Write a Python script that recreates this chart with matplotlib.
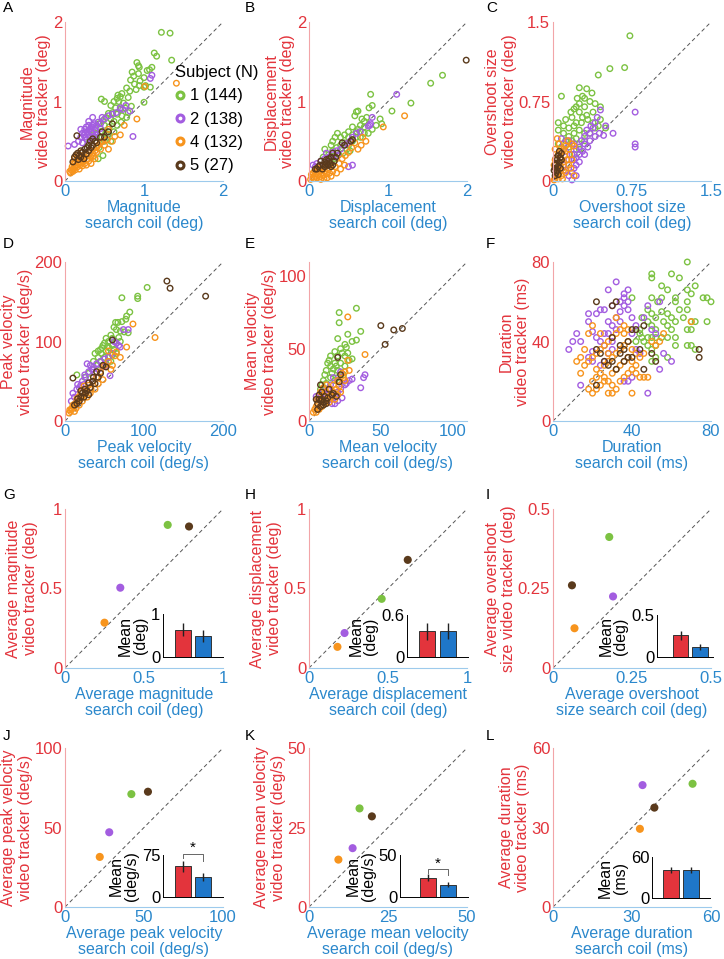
import matplotlib.pyplot as plt
from matplotlib.lines import Line2D
import numpy as np

plt.rcParams['font.family'] = ['Liberation Sans', 'DejaVu Sans']

W, H = 724, 959

RED = '#e3343c'
BLUE = '#2b88cc'
subjects = ['1', '2', '4', '5']
subject_n = [144, 138, 132, 27]
subject_colors = ['#7cc242', '#a35de0', '#f7941d', '#5a3a1c']

# ---------------- trial data (search coil, video tracker) ----------------
# A: magnitude (deg)
mag_s1 = [(1.22,1.87),(1.33,1.86),(1.13,1.61),(1.16,1.57),(1.35,1.52),(0.91,1.49),(0.93,1.45),(0.94,1.43),
          (1.04,1.39),(1.07,1.40),(1.10,1.43),(0.85,1.37),(0.87,1.32),(0.93,1.35),(1.00,1.30),(0.83,1.27),
          (0.95,1.26),(0.88,1.22),(0.94,1.20),(1.00,1.18),(1.02,1.20),(1.08,1.18),(0.78,1.17),(0.82,1.13),
          (0.90,1.15),(0.72,1.10),(0.67,1.08),(0.70,1.06),(0.66,1.04),(0.80,1.05),(0.62,1.00),(0.68,1.00),
          (0.74,0.98),(0.46,1.03),(0.50,1.00),(0.58,0.95),(0.64,0.92),(0.70,0.90),(0.60,0.86),(0.55,0.85),
          (0.66,0.84),(0.72,0.82),(0.76,0.92),(0.84,0.94),(1.00,0.99),(0.58,0.78),(0.62,0.75),(0.52,0.80),
          (0.48,0.76),(0.43,0.72),(0.50,0.70),(0.56,0.68),(0.45,0.62),(0.40,0.60),(0.35,0.58),(0.38,0.55),
          (0.47,0.55),(0.52,0.60),(0.62,0.62),(0.66,0.70),(0.71,0.74),(0.30,0.48),(0.50,0.50),(0.55,0.58),
          (0.58,0.50),(0.43,0.42),(0.48,0.32),(0.42,0.28),(0.78,0.80),(0.80,0.86)]
mag_s2 = [(0.04,0.44),(0.12,0.46),(0.17,0.50),(0.20,0.55),(0.22,0.60),(0.25,0.65),(0.30,0.70),(0.28,0.62),
          (0.32,0.66),(0.35,0.70),(0.25,0.55),(0.30,0.58),(0.33,0.62),(0.38,0.65),(0.40,0.70),(0.42,0.74),
          (0.45,0.72),(0.50,0.78),(0.55,0.82),(0.60,0.84),(0.65,0.86),(0.70,0.92),(0.73,0.90),(0.77,0.95),
          (0.82,0.88),(0.86,0.56),(1.10,1.33),(1.08,1.29),(0.30,0.75),(0.27,0.68),(0.35,0.60),(0.22,0.48),
          (0.40,0.62),(0.45,0.66),(0.47,0.80),(0.35,0.80),(0.20,0.65),(0.28,0.52),(0.32,0.54),(0.36,0.56),
          (0.24,0.58),(0.26,0.60),(0.30,0.64),(0.34,0.68),(0.37,0.72),(0.39,0.58)]
mag_s4 = [(0.06,0.12),(0.08,0.14),(0.10,0.15),(0.12,0.17),(0.09,0.18),(0.14,0.20),(0.16,0.18),(0.11,0.22),
          (0.13,0.24),(0.15,0.26),(0.18,0.22),(0.20,0.24),(0.17,0.28),(0.22,0.27),(0.24,0.30),(0.20,0.32),
          (0.26,0.33),(0.28,0.28),(0.30,0.32),(0.25,0.22),(0.22,0.19),(0.18,0.15),(0.27,0.20),(0.30,0.25),
          (0.33,0.30),(0.35,0.35),(0.32,0.38),(0.38,0.38),(0.40,0.42),(0.42,0.45),(0.45,0.40),(0.48,0.50),
          (0.50,0.45),(0.53,0.52),(0.55,0.40),(0.60,0.50),(0.63,0.56),(0.55,0.65),(0.70,0.58),(0.75,0.70),
          (0.91,0.78),(1.01,1.19),(1.41,1.23),(0.07,0.10),(0.10,0.12),(0.13,0.14),(0.19,0.20),(0.23,0.24),
          (0.12,0.28),(0.15,0.32),(0.21,0.36),(0.36,0.31),(0.40,0.36),(0.45,0.48),(0.33,0.22),(0.38,0.28)]
mag_s5 = [(0.15,0.57),(0.12,0.30),(0.14,0.33),(0.16,0.35),(0.18,0.32),(0.20,0.38),(0.22,0.36),(0.25,0.40),
          (0.28,0.42),(0.30,0.45),(0.32,0.50),(0.35,0.53),(0.38,0.50),(0.45,0.55),(0.47,0.62),(0.55,0.62),
          (0.60,0.72),(0.35,0.45),(0.20,0.30),(0.24,0.28),(0.10,0.24),(0.30,0.38),(0.40,0.48),(0.27,0.34),
          (0.17,0.27),(0.33,0.42),(0.50,0.55)]

# B: displacement (deg)
disp_s1 = [(1.69,1.33),(1.54,1.23),(1.29,0.98),(1.05,0.88),(0.78,1.09),(0.80,0.95),(0.60,0.87),(0.62,0.88),
           (0.58,0.82),(0.73,0.80),(0.90,0.78),(0.92,0.72),(0.70,0.75),(0.65,0.70),(0.55,0.68),(0.60,0.62),
           (0.50,0.62),(0.45,0.58),(0.40,0.55),(0.36,0.60),(0.33,0.55),(0.30,0.50),(0.28,0.45),(0.20,0.40),
           (0.18,0.30),(0.25,0.33),(0.30,0.38),(0.35,0.42),(0.40,0.45),(0.45,0.48),(0.50,0.45),(0.55,0.50),
           (0.60,0.55),(0.65,0.55),(0.70,0.60),(0.75,0.60),(0.80,0.65),(0.85,0.70),(0.70,0.68),(0.48,0.40),
           (0.52,0.38),(0.43,0.35),(0.38,0.33),(0.33,0.28),(0.28,0.30),(0.50,0.55),(0.55,0.58),(0.62,0.65),
           (0.67,0.78),(0.76,0.92)]
disp_s2 = [(1.11,1.09),(0.77,0.70),(0.75,0.69),(0.78,0.72),(0.80,0.80),(0.55,0.55),(0.52,0.50),(0.48,0.47),
           (0.44,0.45),(0.40,0.40),(0.35,0.38),(0.30,0.33),(0.25,0.30),(0.20,0.28),(0.15,0.25),(0.08,0.18),
           (0.05,0.20),(0.10,0.22),(0.22,0.35),(0.55,0.20),(0.50,0.18),(0.60,0.60),(0.65,0.62),(0.30,0.36),
           (0.36,0.32)]
disp_s4 = [(0.02,0.02),(0.04,0.05),(0.06,0.03),(0.08,0.06),(0.10,0.04),(0.12,0.08),(0.14,0.05),(0.16,0.10),
           (0.18,0.07),(0.20,0.12),(0.22,0.09),(0.24,0.14),(0.26,0.10),(0.28,0.06),(0.30,0.12),(0.05,0.10),
           (0.07,0.12),(0.09,0.14),(0.11,0.16),(0.13,0.13),(0.03,0.08),(0.15,0.02),(0.19,0.03),(0.23,0.04),
           (0.17,0.15),(0.21,0.18),(0.25,0.20),(0.33,0.18),(0.38,0.22),(0.42,0.28),(0.46,0.32),(0.50,0.36),
           (0.54,0.42),(0.58,0.48),(0.62,0.40),(0.66,0.45),(0.68,0.55),(0.72,0.50),(0.94,0.68),(1.21,0.82),
           (0.35,0.10),(0.40,0.15),(0.45,0.20)]
disp_s5 = [(1.99,1.52),(0.55,0.52),(0.53,0.50),(0.45,0.45),(0.42,0.48),(0.30,0.35),(0.28,0.30),(0.25,0.25),
           (0.22,0.22),(0.20,0.18),(0.18,0.20),(0.15,0.25),(0.12,0.18),(0.10,0.15),(0.24,0.20),(0.27,0.22),
           (0.30,0.20),(0.32,0.25),(0.08,0.15),(0.17,0.15),(0.20,0.24),(0.25,0.28),(0.34,0.30),(0.14,0.20),
           (0.22,0.27),(0.28,0.18),(0.36,0.35)]

# C: overshoot size (deg)
over_s1 = [(0.73,1.37),(0.68,1.07),(0.54,1.06),(0.43,1.00),(0.25,0.88),(0.32,0.87),(0.37,0.83),(0.28,0.80),
           (0.23,0.78),(0.08,0.80),(0.25,0.73),(0.30,0.70),(0.35,0.75),(0.40,0.73),(0.45,0.70),(0.20,0.68),
           (0.25,0.65),(0.28,0.60),(0.33,0.58),(0.38,0.55),(0.43,0.52),(0.50,0.50),(0.18,0.60),(0.15,0.50),
           (0.20,0.52),(0.10,0.52),(0.05,0.55),(0.05,0.48),(0.10,0.45),(0.15,0.42),(0.20,0.45),(0.25,0.48),
           (0.30,0.45),(0.35,0.45),(0.40,0.50),(0.12,0.38),(0.18,0.38),(0.22,0.40),(0.05,0.35),(0.08,0.32),
           (0.15,0.32),(0.25,0.35),(0.30,0.38),(0.22,0.55),(0.27,0.55),(0.32,0.62),(0.38,0.65),(0.45,0.58),
           (0.12,0.58),(0.17,0.65),(0.22,0.70),(0.30,0.78),(0.20,0.25),(0.25,0.30)]
over_s2 = [(0.78,0.65),(0.78,0.35),(0.78,0.32),(0.57,0.45),(0.50,0.52),(0.45,0.67),(0.42,0.60),(0.40,0.55),
           (0.38,0.50),(0.35,0.45),(0.40,0.42),(0.35,0.38),(0.30,0.35),(0.33,0.32),(0.25,0.32),(0.28,0.28),
           (0.22,0.30),(0.25,0.25),(0.22,0.22),(0.20,0.20),(0.18,0.25),(0.25,0.18),(0.22,0.15),(0.20,0.12),
           (0.18,0.08),(0.15,0.05),(0.12,0.10),(0.10,0.15),(0.15,0.20),(0.12,0.28),(0.10,0.35),(0.15,0.38),
           (0.30,0.42),(0.32,0.48),(0.36,0.52),(0.44,0.45),(0.48,0.43),(0.27,0.38),(0.20,0.35),(0.08,0.40),
           (0.30,0.25),(0.22,0.05),(0.18,0.01)]
over_s4 = [(0.01,0.01),(0.02,0.02),(0.03,0.05),(0.05,0.02),(0.06,0.08),(0.08,0.05),(0.10,0.10),(0.12,0.08),
           (0.04,0.12),(0.07,0.15),(0.10,0.18),(0.13,0.20),(0.15,0.15),(0.02,0.20),(0.05,0.25),(0.08,0.28),
           (0.10,0.30),(0.12,0.33),(0.15,0.30),(0.18,0.35),(0.20,0.33),(0.16,0.25),(0.18,0.20),(0.02,0.30),
           (0.06,0.35),(0.04,0.40),(0.14,0.38),(0.17,0.12),(0.20,0.05),(0.03,0.08),(0.09,0.02),(0.11,0.24),
           (0.07,0.20),(0.01,0.15)]
over_s5 = [(0.02,0.05),(0.03,0.08),(0.04,0.10),(0.02,0.12),(0.05,0.14),(0.03,0.16),(0.06,0.18),(0.04,0.20),
           (0.07,0.22),(0.05,0.24),(0.08,0.26),(0.06,0.28),(0.02,0.15),(0.07,0.12),(0.05,0.06),(0.08,0.20),
           (0.03,0.22),(0.01,0.10)]

# D: peak velocity (deg/s)
pv_s1 = [(104,168),(72,155),(92,157),(92,154),(82,137),(78,132),(77,128),(64,124),(67,124),(72,125),(62,118),
         (65,115),(70,113),(75,112),(80,111),(58,108),(60,104),(52,104),(55,100),(50,98),(48,95),(45,90),
         (42,88),(38,85),(46,85),(52,88),(56,92),(60,95),(64,100),(50,80),(55,80),(60,83),(65,85),(45,75),
         (40,70),(35,65),(30,60),(15,58),(25,55),(48,70),(52,72),(58,75),(42,80),(36,75),(62,90),(68,105),
         (54,94),(47,92),(70,100)]
pv_s2 = [(28,72),(32,70),(36,68),(40,72),(45,75),(50,78),(55,80),(60,85),(62,100),(65,98),(68,95),(70,93),
         (74,115),(80,115),(57,57),(30,62),(25,58),(22,50),(20,45),(15,40),(10,35),(12,30),(8,25),(18,42),
         (26,55),(34,65),(38,60),(42,65),(48,68),(52,70),(30,48),(24,46),(16,46)]
pv_s4 = [(86,122),(114,105),(78,93),(65,87),(55,75),(50,70),(45,62),(40,55),(35,50),(30,45),(25,40),(20,35),
         (15,28),(10,20),(8,15),(5,10),(12,12),(18,20),(22,25),(28,30),(32,35),(38,40),(42,47),(48,52),
         (58,65),(60,70),(70,80),(63,82),(55,88),(7,12),(9,16),(11,18),(13,22),(16,24),(19,27),(22,30),
         (26,34),(6,14),(14,16),(17,30),(21,38),(24,44),(27,36),(33,40)]
pv_s5 = [(129,176),(133,167),(178,157),(60,102),(10,54),(48,70),(52,68),(40,62),(42,55),(35,50),(30,48),
         (25,40),(22,35),(20,30),(15,22),(12,20),(28,38),(18,25),(24,30),(32,42),(26,35),(38,47),(20,38),
         (45,60),(16,28),(36,55),(30,33)]

# E: mean velocity (deg/s)
mv_s1 = [(33,78),(21,75),(21,68),(36,62),(27,60),(20,57),(30,55),(33,56),(25,53),(26,51),(22,50),(18,48),
         (15,45),(20,45),(25,45),(28,42),(30,43),(22,40),(18,40),(15,38),(12,35),(16,33),(20,35),(25,38),
         (10,28),(12,26),(15,30),(18,28),(20,30),(24,32),(14,42),(17,36),(13,40),(19,38),(23,47),(27,47),
         (11,32),(9,25),(8,22)]
mv_s2 = [(36,23),(38,30),(39,32),(28,28),(30,29),(22,22),(25,25),(20,20),(18,18),(15,15),(18,12),(20,14),
         (23,16),(12,18),(10,20),(8,17),(5,17),(15,25),(17,30),(20,28),(13,22),(22,34),(26,26),(16,12),(10,13)]
mv_s4 = [(27,72),(39,46),(27,42),(25,34),(24,30),(20,28),(17,25),(15,22),(12,20),(10,18),(8,15),(6,12),
         (5,10),(4,8),(3,6),(7,8),(9,10),(11,12),(13,15),(15,18),(17,20),(19,22),(21,24),(14,13),(16,17),
         (6,15),(8,20),(10,23),(12,25),(18,15),(20,18),(22,20),(25,28),(23,33),(28,35),(7,9),(5,6)]
mv_s5 = [(50,66),(59,63),(65,64),(53,53),(20,44),(22,32),(21,27),(17,19),(19,17),(8,25),(7,18),(9,15),
         (6,12),(10,13),(8,10),(12,14),(9,20),(11,17),(13,16),(7,15),(10,11),(14,22),(6,8),(16,18),(8,14),
         (12,12),(5,15)]

# F: duration (ms)
dur_s1 = [(68,80),(50,74),(50,72),(60,74),(64,72),(55,68),(72,68),(58,66),(62,62),(68,66),(70,64),(78,62),
          (76,62),(80,60),(68,60),(62,60),(50,62),(55,62),(40,62),(48,56),(50,54),(52,52),(55,55),(58,54),
          (60,52),(62,50),(66,52),(70,50),(72,50),(78,50),(58,48),(60,46),(68,46),(70,46),(45,52),(48,50),
          (50,48),(52,46),(44,46),(44,44),(45,42),(48,42),(50,42),(52,42),(55,42),(58,42),(62,42),(42,40),
          (48,38),(52,38),(68,38),(70,38),(72,36),(62,38),(50,36),(52,32),(58,32),(50,30),(46,40),(56,50),
          (64,56),(68,56),(53,60)]
dur_s2 = [(8,36),(10,40),(14,40),(12,44),(18,50),(20,45),(22,42),(24,40),(26,38),(28,34),(28,44),(30,40),
          (30,48),(32,52),(34,55),(34,60),(36,62),(36,64),(38,60),(38,56),(40,52),(42,48),(28,66),(32,70),
          (36,58),(38,66),(34,50),(32,46),(30,36),(26,30),(24,28),(20,30),(18,32),(14,18),(20,35),(22,54),
          (24,56),(26,56),(28,50),(40,44),(42,36),(44,34),(46,52),(48,58),(50,46),(52,44),(54,26),(56,34),
          (54,60),(60,30),(48,14),(36,20),(38,20),(40,22),(18,54),(26,44),(30,58)]
dur_s4 = [(14,24),(16,28),(18,30),(20,32),(22,34),(24,36),(26,38),(28,40),(30,42),(32,44),(34,46),(36,48),
          (32,52),(24,44),(20,48),(18,44),(22,26),(24,24),(26,22),(28,20),(30,18),(32,16),(28,14),(30,14),
          (34,20),(36,22),(38,24),(40,26),(42,28),(44,22),(46,22),(48,22),(42,24),(26,28),(28,30),(30,32),
          (32,34),(34,36),(36,38),(38,40),(40,36),(42,34),(44,32),(46,34),(50,40),(52,38),(54,40),(56,44),
          (70,50),(40,14),(20,14),(22,16),(24,18),(26,20),(30,24),(32,26),(34,28),(36,30),(38,32),(18,16),
          (20,20),(22,22),(36,44),(38,46),(16,36),(14,32),(12,30),(40,30),(28,34)]
dur_s5 = [(22,60),(32,60),(30,58),(22,36),(24,34),(26,30),(28,28),(30,30),(32,26),(34,34),(36,36),(38,40),
          (40,46),(42,46),(46,48),(44,36),(46,26),(50,34),(52,30),(74,36),(74,32),(22,18),(36,30),(38,32),
          (40,32),(34,38),(30,42)]

# ---------------- subject averages (coil, tracker), order: 1, 2, 4, 5 ----------------
avg_mag = [(0.65, 0.90), (0.35, 0.505), (0.25, 0.285), (0.785, 0.89)]
avg_disp = [(0.46, 0.435), (0.225, 0.22), (0.18, 0.133), (0.625, 0.68)]
avg_over = [(0.178, 0.412), (0.19, 0.225), (0.068, 0.125), (0.06, 0.26)]
avg_pv = [(42, 71), (28, 47), (22, 31.5), (52.5, 72.5)]
avg_mv = [(16, 31), (13.8, 18.5), (9.3, 14.9), (19.9, 28.5)]
avg_dur = [(53, 46.5), (34, 46), (33, 29.5), (38.5, 37.5)]

# inset means: [tracker, coil] and their error bars
bar_mag = [0.63, 0.49]; err_mag = [0.15, 0.14]
bar_disp = [0.37, 0.37]; err_disp = [0.12, 0.115]
bar_over = [0.256, 0.12]; err_over = [0.055, 0.035]
bar_pv = [55, 36]; err_pv = [10, 7.5]
bar_mv = [23, 14.8]; err_mv = [4.5, 2.5]
bar_dur = [40.8, 40.8]; err_dur = [4.8, 4.8]


def box(left, top, w, h):
    return [left / W, 1 - (top + h) / H, w / W, h / H]


fig = plt.figure(figsize=(W / 100, H / 100), dpi=100)

col_left = [65, 309, 553]
row_top = [22, 262, 509, 748]
AW, AH = 158, 159
FS = 11


def base_axes(col, row, lim, ticks, ticklabels, xlabel, ylabel, letter):
    ax = fig.add_axes(box(col_left[col], row_top[row], AW, AH))
    ax.set_xlim(0, lim)
    ax.set_ylim(0, lim)
    ax.plot([0, lim], [0, lim], ls=(0, (4, 3)), color='#555555', lw=0.7, zorder=0)
    ax.spines['top'].set_visible(False)
    ax.spines['right'].set_visible(False)
    ax.spines['left'].set_color('#f2a5a8')
    ax.spines['bottom'].set_color('#9dcaec')
    ax.spines['left'].set_linewidth(0.8)
    ax.spines['bottom'].set_linewidth(0.8)
    ax.set_xticks(ticks)
    ax.set_xticklabels(ticklabels)
    ax.set_yticks(ticks)
    ax.set_yticklabels(ticklabels)
    ax.tick_params(length=0, labelsize=FS + 1, pad=2)
    ax.tick_params(axis='x', colors=BLUE)
    ax.tick_params(axis='y', colors=RED)
    ax.set_xlabel(xlabel, color=BLUE, fontsize=FS + 0.5, linespacing=1.1, labelpad=1)
    ax.set_ylabel(ylabel, color=RED, fontsize=FS + 0.5, linespacing=1.15, labelpad=1)
    ax.patch.set_alpha(0)
    fig.text([3, 245, 486][col] / W, 1 - [1, 237, 488, 729][row] / H, letter,
             fontsize=FS, va='top', ha='left')
    return ax


def trial_panel(col, row, groups, lim, ticks, ticklabels, xlabel, ylabel, letter):
    ax = base_axes(col, row, lim, ticks, ticklabels, xlabel, ylabel, letter)
    for pts, c in zip(groups, subject_colors):
        pts = np.array(pts)
        ax.scatter(pts[:, 0], pts[:, 1], s=16, facecolors='none', edgecolors=c, linewidths=1.0,
                   clip_on=False, zorder=2)
    return ax


def avg_panel(col, row, avgs, lim, ticks, ticklabels, xlabel, ylabel, letter,
              inset, bars, errs, ytop, ylab, unit, inset_xlim, sig=None):
    ax = base_axes(col, row, lim, ticks, ticklabels, xlabel, ylabel, letter)
    for (x, y), c in zip(avgs, subject_colors):
        ax.scatter([x], [y], s=34, color=c, edgecolors='none', zorder=3)
    ia = fig.add_axes(box(*inset))
    ia.bar([0, 1], bars, width=0.8, color=[RED, '#1f77c9'], edgecolor='#333333', linewidth=0.7)
    ia.errorbar([0, 1], bars, yerr=errs, fmt='none', ecolor='#222222', elinewidth=1, capsize=0)
    ia.set_xlim(*inset_xlim)
    ia.set_ylim(0, ytop)
    ia.set_xticks([])
    ia.set_yticks([0, ytop])
    ia.set_yticklabels(['0', ylab])
    ia.tick_params(length=0, labelsize=FS + 1, pad=2)
    ia.set_ylabel('Mean\n' + unit, fontsize=FS + 0.5, linespacing=1.0, labelpad=2)
    ia.spines['top'].set_visible(False)
    ia.spines['right'].set_visible(False)
    ia.spines['left'].set_linewidth(0.7)
    ia.spines['bottom'].set_linewidth(0.7)
    ia.patch.set_alpha(0)
    if sig is not None:
        top, left_end, right_end, star_y = sig
        ia.plot([0, 0, 1, 1], [left_end, top, top, right_end], color='#666666', lw=0.7, clip_on=False)
        ia.text(0.5, star_y, '*', ha='center', va='center', fontsize=FS, clip_on=False)
    return ia


# ---- row 1 ----
axA = trial_panel(0, 0, [mag_s1, mag_s2, mag_s4, mag_s5], 2, [0, 1, 2], ['0', '1', '2'],
                  'Magnitude\nsearch coil (deg)', 'Magnitude\nvideo tracker (deg)', 'A')
handles = [Line2D([], [], marker='o', ls='', markersize=5, markeredgewidth=2.2,
                  markerfacecolor='none', color=c) for c in subject_colors]
labels = ['%s (%d)' % (s, n) for s, n in zip(subjects, subject_n)]
fig.legend(handles, labels, title='Subject (N)', loc='upper left',
           bbox_to_anchor=(175 / W, 1 - 65 / H), frameon=False, fontsize=FS + 1,
           title_fontsize=FS + 1, alignment='left', handlelength=0.6, handletextpad=0.3,
           labelspacing=0.5, borderpad=0, borderaxespad=0)

trial_panel(1, 0, [disp_s1, disp_s2, disp_s4, disp_s5], 2, [0, 1, 2], ['0', '1', '2'],
            'Displacement\nsearch coil (deg)', 'Displacement\nvideo tracker (deg)', 'B')
trial_panel(2, 0, [over_s1, over_s2, over_s4, over_s5], 1.5, [0, 0.75, 1.5], ['0', '0.75', '1.5'],
            'Overshoot size\nsearch coil (deg)', 'Overshoot size\nvideo tracker (deg)', 'C')

# ---- row 2 ----
trial_panel(0, 1, [pv_s1, pv_s2, pv_s4, pv_s5], 200, [0, 100, 200], ['0', '100', '200'],
            'Peak velocity\nsearch coil (deg/s)', 'Peak velocity\nvideo tracker (deg/s)', 'D')
trial_panel(1, 1, [mv_s1, mv_s2, mv_s4, mv_s5], 110, [0, 50, 100], ['0', '50', '100'],
            'Mean velocity\nsearch coil (deg/s)', 'Mean velocity\nvideo tracker (deg/s)', 'E')
trial_panel(2, 1, [dur_s1, dur_s2, dur_s4, dur_s5], 80, [0, 40, 80], ['0', '40', '80'],
            'Duration\nsearch coil (ms)', 'Duration\nvideo tracker (ms)', 'F')

# ---- row 3 ----
avg_panel(0, 2, avg_mag, 1, [0, 0.5, 1], ['0', '0.5', '1'],
          'Average magnitude\nsearch coil (deg)', 'Average magnitude\nvideo tracker (deg)', 'G',
          (163, 614, 60, 43), bar_mag, err_mag, 1, '1', '(deg)', (-1.0, 2.0))
avg_panel(1, 2, avg_disp, 1, [0, 0.5, 1], ['0', '0.5', '1'],
          'Average displacement\nsearch coil (deg)', 'Average displacement\nvideo tracker (deg)', 'H',
          (407, 615, 61, 42), bar_disp, err_disp, 0.6, '0.6', '(deg)', (-1.0, 2.0))
avg_panel(2, 2, avg_over, 0.5, [0, 0.25, 0.5], ['0', '0.25', '0.5'],
          'Average overshoot\nsize search coil (deg)', 'Average overshoot\nsize video tracker (deg)', 'I',
          (657, 615, 56, 42), bar_over, err_over, 0.5, '0.5', '(deg)', (-1.2, 1.65))

# ---- row 4 ----
avg_panel(0, 3, avg_pv, 100, [0, 50, 100], ['0', '50', '100'],
          'Average peak velocity\nsearch coil (deg/s)', 'Average peak velocity\nvideo tracker (deg/s)', 'J',
          (163, 855, 60, 42), bar_pv, err_pv, 75, '75', '(deg/s)', (-1.0, 2.0), sig=(76, 70, 64, 87))
avg_panel(1, 3, avg_mv, 50, [0, 25, 50], ['0', '25', '50'],
          'Average mean velocity\nsearch coil (deg/s)', 'Average mean velocity\nvideo tracker (deg/s)', 'K',
          (400, 855, 68, 42), bar_mv, err_mv, 50, '50', '(deg/s)', (-1.4, 2.0), sig=(33, 29, 26, 40))
avg_panel(2, 3, avg_dur, 60, [0, 30, 60], ['0', '30', '60'],
          'Average duration\nsearch coil (ms)', 'Average duration\nvideo tracker (ms)', 'L',
          (652, 857, 58, 41), bar_dur, err_dur, 60, '60', '(ms)', (-0.95, 1.95))

fig.savefig('out.png', dpi=100)
